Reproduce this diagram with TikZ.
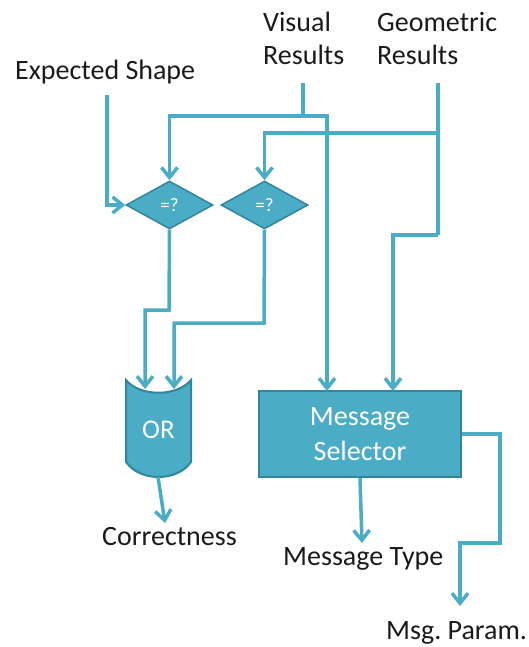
\documentclass[tikz,border=0pt]{standalone}
\usepackage{fontspec}
\setmainfont{Carlito}
\usetikzlibrary{shapes.geometric,arrows.meta,backgrounds}
\definecolor{aqua}{HTML}{4BACC6}
\definecolor{aquadark}{HTML}{31859C}
\definecolor{txt}{HTML}{1A1A1A}
\tikzset{
  wire/.style={draw=aqua, line width=3.5pt, line join=miter},
  arrowwire/.style={wire, -{Straight Barb[length=10pt,width=16pt]}},
  lbl/.style={font=\fontsize{28}{33}\selectfont\frenchspacing, inner sep=0pt, text=txt, align=left},
  dia/.style={diamond, draw=aquadark, fill=aqua, line width=1.5pt,
    minimum width=87pt, minimum height=48pt, inner sep=0pt, text=white,
    font=\fontsize{19}{22}\selectfont},
  box/.style={rectangle, draw=aquadark, fill=aqua, line width=2pt,
    minimum width=202pt, minimum height=86pt, inner sep=0pt, text=white,
    align=center, font=\fontsize{28}{35}\selectfont},
  orlbl/.style={inner sep=0pt, text=white, font=\fontsize{27}{30}\selectfont},
  orshape/.style={draw=aquadark, fill=aqua, line width=2pt}
}
\begin{document}
\begin{tikzpicture}[x=1pt,y=-1pt]
\useasboundingbox (0,0) rectangle (529,647);

% labels
\node[lbl, anchor=base west] (exp) at (15,80) {Expected Shape};
\node[lbl, anchor=base west] (vis1) at (263,32) {Visual};
\node[lbl, anchor=base west] (vis2) at (263,65) {Results};
\node[lbl, anchor=base west] (geo1) at (377,32) {Geometric};
\node[lbl, anchor=base west] (geo2) at (377,65) {Results};
\node[lbl, anchor=base west] (corr) at (102,545) {Correctness};
\node[lbl, anchor=base west] (mtype) at (283,565) {Message Type};
\node[lbl, anchor=base west] (mparam) at (386,639) {Msg.\ Param.};

% shapes
\node[dia] (d1) at (169.5,205) {=?};
\node[dia] (d2) at (264.5,205) {=?};
\node[box] (ms) at (360,434) {Message\\Selector};
\node[orlbl] (or) at (158.5,430) {OR};
\begin{scope}[on background layer]
  \path[orshape] (126,380) .. controls (140,397) and (177,397) .. (191,380)
    -- (191,462) .. controls (177,482) and (140,482) .. (126,462) -- cycle;
\end{scope}

% connector end points
\coordinate (etop) at (107,95);
\coordinate (vtop) at (303,83);
\coordinate (vj) at (303,116);
\coordinate (gtop) at (438,83);
\coordinate (gj1) at (438,133);
\coordinate (gj2) at (438,235);
\coordinate (msin1) at (327,391);
\coordinate (msin2) at (393,391);
\coordinate (orin1) at (145,389);
\coordinate (orin2) at (174,389);
\coordinate (orout) at (158,477);
\coordinate (corrin) at (165,523);
\coordinate (mtin) at (362,543);
\coordinate (mpin) at (460,606);

% connectors
\draw[arrowwire] (etop) |- (d1.west);
\draw[wire] (vtop) -- (vj);
\draw[arrowwire] (vj) -| (d1.north);
\draw[arrowwire] (vj) -| (msin1);
\draw[wire] (gtop) -- (gj2);
\draw[arrowwire] (gj1) -| (d2.north);
\draw[arrowwire] (gj2) -| (msin2);
\draw[arrowwire] (d1.south) -- (169,310) -| (orin1);
\draw[arrowwire] (d2.south) -- (264,323) -| (orin2);
\draw[arrowwire] (orout) -- (corrin);
\draw[arrowwire] (ms.south) -- (mtin);
\draw[arrowwire] (ms.east) -- (500,434) -- (500,543) -| (mpin);
\end{tikzpicture}
\end{document}
